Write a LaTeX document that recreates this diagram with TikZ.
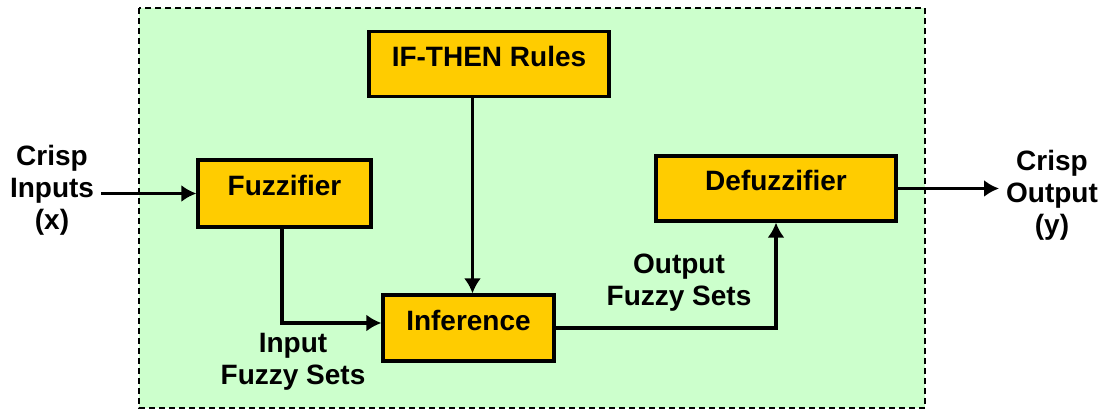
\documentclass[tikz,border=0pt]{standalone}
\usepackage{fontspec}
\setmainfont{Liberation Sans}
\usepackage{tikz}
\usetikzlibrary{arrows.meta}
\tikzset{>={Latex[length=7.5pt,width=8.5pt]}}
\definecolor{bgGreen}{HTML}{CCFFCC}
\definecolor{boxYellow}{HTML}{FFCC00}
\tikzset{
	block/.style={draw, line width=1.6pt, fill=boxYellow, inner sep=0pt, text height=10pt, text depth=7.5pt, font=\bfseries\fontsize{14}{16}\selectfont},
	lbl/.style={align=center, font=\bfseries\fontsize{14}{16}\selectfont},
	flow/.style={->, line width=1.9pt},
}

\begin{document}
\begin{tikzpicture}[x=.5pt, y=-.5pt]
    \useasboundingbox(0, 0)rectangle(1104, 410);
    \draw[fill=bgGreen, line width=.75pt, dash pattern=on 3pt off 2pt](139, 8)rectangle(925, 408);
    \node[block, minimum width=120pt, minimum height=32.5pt](rules)at(489, 64){IF-THEN Rules};
    \node[block, minimum width=86.5pt, minimum height=33.5pt](fuzz)at(284.5, 193.5){Fuzzifier};
    \node[block, minimum width=85.5pt, minimum height=33pt](inf)at(468.5, 328){Inference};
    \node[block, minimum width=120pt, minimum height=32.5pt](defuzz)at(776, 188.5){Defuzzifier};
    \node[lbl](inL)at(52, 190){Crisp\\Inputs\\(x)};
    \node[lbl](outL)at(1052, 195){Crisp\\Output\\(y)};
    \node[lbl](inSets)at(293, 362){Input\\Fuzzy Sets};
    \node[lbl](outSets)at(679, 283){Output\\Fuzzy Sets};
    \coordinate(ruleIn)at([xshift=2pt]inf.north);
    \draw[flow](inL.east |- fuzz.west)--(fuzz.west);
    \draw[flow]([xshift=-1.25pt]fuzz.south)|-([yshift=2.5pt]inf.west);
    \draw[flow](rules.south -| ruleIn)--(ruleIn);
    \draw[flow](inf.east)-|(defuzz.south);
    \draw[flow](defuzz.east)--(outL.west |- defuzz.east);
\end{tikzpicture}
\end{document}
